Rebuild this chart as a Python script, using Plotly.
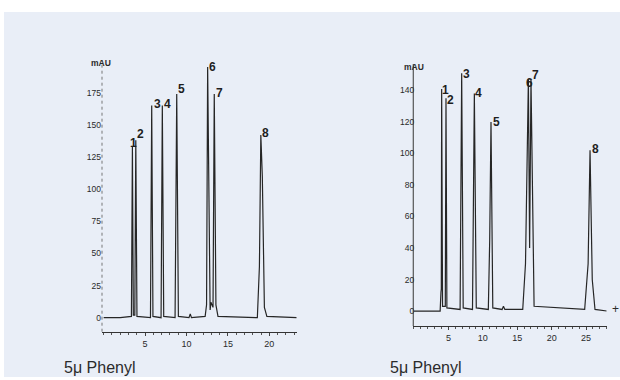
import plotly.graph_objects as go

# ---------------- data ----------------
# Left chromatogram (time in min, signal in mAU)
left_time = [0.0, 2.0, 3.35, 3.47, 3.58, 3.76, 3.88, 4.02, 5.65, 5.80, 5.95, 6.93, 7.08, 7.25,
             8.62, 8.82, 9.02, 10.3, 10.45, 10.6, 12.25, 12.42, 12.55, 12.72, 12.85, 12.95,
             13.2, 13.35, 13.55, 13.8, 18.55, 18.8, 18.97, 19.15, 19.4, 19.7, 23.3]
left_mau = [0, 0, 1, 133, 2, 2, 138, 1, 0, 165, 1, 0, 165, 1,
            0, 174, 1, 0, 3, 0, 1, 10, 195, 45, 6, 12,
            8, 174, 10, 1, 0, 40, 142, 110, 8, 1, 0]
left_peak_time = [3.47, 3.88, 5.80, 7.08, 8.82, 12.55, 13.35, 18.97]
left_peak_mau = [133, 138, 165, 165, 174, 195, 174, 142]

# Right chromatogram
right_time = [0.0, 3.8, 3.92, 3.97, 4.02, 4.15, 4.55, 4.65, 4.78, 6.7, 6.93, 7.15,
              8.5, 8.77, 9.05, 10.8, 11.0, 11.19, 11.45, 12.8, 13.0, 13.2, 15.8, 16.2,
              16.62, 16.8, 17.0, 17.2, 17.45, 24.8, 25.3, 25.58, 25.9, 26.3, 28.0]
right_mau = [0, 0, 12, 14, 141, 3, 3, 135, 2, 1, 151, 2,
             1, 138, 2, 1, 45, 120, 2, 1, 3, 1, 1, 30,
             147, 40, 146.6, 80, 3, 1, 30, 102, 20, 1, 0]
right_peak_time = [4.02, 4.65, 6.93, 8.77, 11.19, 16.62, 17.0, 25.58]
right_peak_mau = [141, 135, 151, 138, 120, 147, 146.6, 102]

peak_labels = ["1", "2", "3", "4", "5", "6", "7", "8"]

left_yticks = [0, 25, 50, 75, 100, 125, 150, 175]
right_yticks = [0, 20, 40, 60, 80, 100, 120, 140]
left_xticks = [5, 10, 15, 20]
right_xticks = [5, 10, 15, 20, 25]

caption = "5μ Phenyl"
unit = "mAU"

# ---------------- styling / layout ----------------
W, H = 620, 380
def px(x):
    return x / W
def py(y):
    return 1 - y / H

# pixel nudges of the peak-number labels (centre relative to apex)
left_label_dx = [1, 5, 5.5, 5.5, 5, 5, 5, 5]
left_label_dy = [4, 6, 2, 2, 5, 0, 1, 2]
right_label_dx = [4, 4.5, 5, 4, 5, 1.5, 5, 5]
right_label_dy = [-1, -2, -1, 0.5, 0, -3.5, 5, 1.5]

LINE = "#262626"
TXT = "#2a2a2a"
BG = "#E9EEF7"

fig = go.Figure()
fig.add_trace(go.Scatter(x=left_time, y=left_mau, mode="lines",
                         line=dict(color=LINE, width=1.2), xaxis="x", yaxis="y",
                         hoverinfo="skip", showlegend=False))
fig.add_trace(go.Scatter(x=right_time, y=right_mau, mode="lines",
                         line=dict(color=LINE, width=1.2), xaxis="x2", yaxis="y2",
                         hoverinfo="skip", showlegend=False))

yfont = dict(family="Liberation Sans, Arial, sans-serif", size=8.5, color=TXT)
xfont = dict(family="Liberation Sans, Arial, sans-serif", size=9, color=TXT)

xcommon = dict(showgrid=False, zeroline=False, showline=True, linecolor="#333",
               linewidth=1.2, ticks="outside", ticklen=3, tickwidth=1, tickcolor="#444",
               tickfont=xfont, fixedrange=True,
               minor=dict(ticks="outside", ticklen=2, tickcolor="#555", dtick=1))
ycommon = dict(showgrid=False, zeroline=False, showline=False, ticks="",
               tickfont=yfont, fixedrange=True)

fig.update_layout(
    width=W, height=H,
    margin=dict(l=0, r=0, t=0, b=0),
    paper_bgcolor="white",
    plot_bgcolor="rgba(0,0,0,0)",
    xaxis=dict(domain=[px(102), px(296.7)], range=[-0.2, 23.3], anchor="y",
               tickvals=left_xticks, **xcommon),
    yaxis=dict(domain=[py(331.7), py(60)], range=[-10.9, 200.4], anchor="x",
               tickvals=left_yticks, **ycommon),
    xaxis2=dict(domain=[px(413.3), px(606.7)], range=[-0.1, 28.0], anchor="y2",
                tickvals=right_xticks, **xcommon),
    yaxis2=dict(domain=[py(326), py(64)], range=[-9.5, 156.8], anchor="x2",
                tickvals=right_yticks, ticklabelstandoff=-2, **ycommon),
)

shapes = [
    dict(type="rect", xref="paper", yref="paper", x0=px(4), x1=1.0, y0=py(377), y1=py(12),
         fillcolor=BG, line=dict(width=0), layer="below"),
    dict(type="line", xref="x domain", yref="y domain", x0=0, x1=0, y0=0, y1=1,
         line=dict(color="#777", width=1, dash="dot"), layer="below"),
    dict(type="line", xref="x2 domain", yref="y2 domain", x0=0, x1=0, y0=0, y1=1,
         line=dict(color="#555", width=1.2), layer="below"),
]
fig.update_layout(shapes=shapes)

annotations = []
lab_font = dict(family="Liberation Sans, Arial, sans-serif", size=12, color="#1e1e1e")
for t, h, s, dx, dy in zip(left_peak_time, left_peak_mau, peak_labels, left_label_dx, left_label_dy):
    annotations.append(dict(x=t, y=h, xref="x", yref="y", text="<b>%s</b>" % s,
                            showarrow=False, xanchor="center", yanchor="middle",
                            xshift=dx, yshift=dy, font=lab_font))
for t, h, s, dx, dy in zip(right_peak_time, right_peak_mau, peak_labels, right_label_dx, right_label_dy):
    annotations.append(dict(x=t, y=h, xref="x2", yref="y2", text="<b>%s</b>" % s,
                            showarrow=False, xanchor="center", yanchor="middle",
                            xshift=dx, yshift=dy, font=lab_font))

unit_font = dict(family="Liberation Sans, Arial, sans-serif", size=8.5, color=TXT)
annotations.append(dict(x=px(101), y=py(63), xref="paper", yref="paper", text="<b>%s</b>" % unit,
                        showarrow=False, xanchor="center", yanchor="middle", font=unit_font))
annotations.append(dict(x=px(414), y=py(67), xref="paper", yref="paper", text="<b>%s</b>" % unit,
                        showarrow=False, xanchor="center", yanchor="middle", font=unit_font))
annotations.append(dict(x=px(615), y=py(309), xref="paper", yref="paper", text="+",
                        showarrow=False, xanchor="center", yanchor="middle",
                        font=dict(family="Liberation Sans, Arial", size=12, color=TXT)))

cap_font = dict(family="Liberation Sans, Arial, sans-serif", size=16, color="#2b2b2b")
annotations.append(dict(x=px(62), y=py(367), xref="paper", yref="paper", text=caption,
                        showarrow=False, xanchor="left", yanchor="middle", font=cap_font))
annotations.append(dict(x=px(388), y=py(367), xref="paper", yref="paper", text=caption,
                        showarrow=False, xanchor="left", yanchor="middle", font=cap_font))
fig.update_layout(annotations=annotations)

fig.write_html("out.html")
